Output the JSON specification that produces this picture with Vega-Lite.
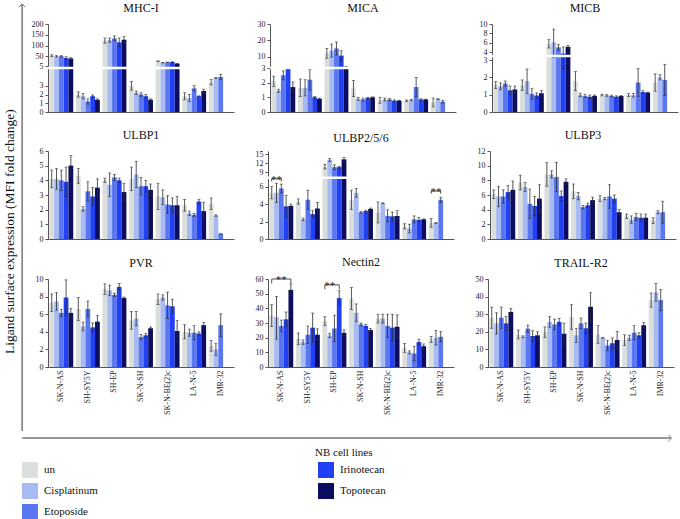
{
  "$schema": "https://vega.github.io/schema/vega-lite/v6.json",
  "padding": {"left": 0, "top": 1, "right": 5, "bottom": 0},
  "background": "white",
  "datasets": {
    "bars": [
      {"m":"MHC-I","c":"SK-N-AS","t":"un","v":53,"lo":49,"hi":57},
      {"m":"MHC-I","c":"SK-N-AS","t":"Cisplatinum","v":50,"lo":47,"hi":53},
      {"m":"MHC-I","c":"SK-N-AS","t":"Etoposide","v":50,"lo":47,"hi":53},
      {"m":"MHC-I","c":"SK-N-AS","t":"Irinotecan","v":42,"lo":36,"hi":48},
      {"m":"MHC-I","c":"SK-N-AS","t":"Topotecan","v":40,"lo":36,"hi":44},
      {"m":"MHC-I","c":"SH-SY5Y","t":"un","v":2.0,"lo":1.7,"hi":2.3},
      {"m":"MHC-I","c":"SH-SY5Y","t":"Cisplatinum","v":1.8,"lo":1.5,"hi":2.1},
      {"m":"MHC-I","c":"SH-SY5Y","t":"Etoposide","v":1.2,"lo":0.9,"hi":1.5},
      {"m":"MHC-I","c":"SH-SY5Y","t":"Irinotecan","v":1.8,"lo":1.65,"hi":1.95},
      {"m":"MHC-I","c":"SH-SY5Y","t":"Topotecan","v":1.4,"lo":1.3,"hi":1.5},
      {"m":"MHC-I","c":"SH-EP","t":"un","v":123,"lo":111,"hi":135},
      {"m":"MHC-I","c":"SH-EP","t":"Cisplatinum","v":125,"lo":115,"hi":135},
      {"m":"MHC-I","c":"SH-EP","t":"Etoposide","v":133,"lo":121,"hi":145},
      {"m":"MHC-I","c":"SH-EP","t":"Irinotecan","v":115,"lo":95,"hi":135},
      {"m":"MHC-I","c":"SH-EP","t":"Topotecan","v":127,"lo":112,"hi":142},
      {"m":"MHC-I","c":"SK-N-SH","t":"un","v":3.0,"lo":2.5,"hi":3.5},
      {"m":"MHC-I","c":"SK-N-SH","t":"Cisplatinum","v":2.2,"lo":2.0,"hi":2.4},
      {"m":"MHC-I","c":"SK-N-SH","t":"Etoposide","v":2.0,"lo":1.8,"hi":2.2},
      {"m":"MHC-I","c":"SK-N-SH","t":"Irinotecan","v":1.8,"lo":1.6,"hi":2.0},
      {"m":"MHC-I","c":"SK-N-SH","t":"Topotecan","v":1.4,"lo":1.3,"hi":1.5},
      {"m":"MHC-I","c":"SK-N-BE(2)c","t":"un","v":27,"lo":25,"hi":29},
      {"m":"MHC-I","c":"SK-N-BE(2)c","t":"Cisplatinum","v":20,"lo":19,"hi":21},
      {"m":"MHC-I","c":"SK-N-BE(2)c","t":"Etoposide","v":22,"lo":21,"hi":23},
      {"m":"MHC-I","c":"SK-N-BE(2)c","t":"Irinotecan","v":23,"lo":21,"hi":25},
      {"m":"MHC-I","c":"SK-N-BE(2)c","t":"Topotecan","v":16,"lo":15,"hi":17},
      {"m":"MHC-I","c":"LA-N-5","t":"un","v":1.8,"lo":1.4,"hi":2.2},
      {"m":"MHC-I","c":"LA-N-5","t":"Cisplatinum","v":1.6,"lo":1.2,"hi":2.0},
      {"m":"MHC-I","c":"LA-N-5","t":"Etoposide","v":2.7,"lo":2.4,"hi":3.0},
      {"m":"MHC-I","c":"LA-N-5","t":"Irinotecan","v":1.8,"lo":1.75,"hi":1.85},
      {"m":"MHC-I","c":"LA-N-5","t":"Topotecan","v":2.4,"lo":2.2,"hi":2.6},
      {"m":"MHC-I","c":"IMR-32","t":"un","v":3.4,"lo":3.1,"hi":3.7},
      {"m":"MHC-I","c":"IMR-32","t":"Cisplatinum","v":3.9,"lo":3.85,"hi":3.95},
      {"m":"MHC-I","c":"IMR-32","t":"Etoposide","v":4.0,"lo":3.7,"hi":4.3},

      {"m":"MICA","c":"SK-N-AS","t":"un","v":2.1,"lo":1.75,"hi":2.45},
      {"m":"MICA","c":"SK-N-AS","t":"Cisplatinum","v":1.45,"lo":1.35,"hi":1.55},
      {"m":"MICA","c":"SK-N-AS","t":"Etoposide","v":2.5,"lo":2.2,"hi":2.8},
      {"m":"MICA","c":"SK-N-AS","t":"Irinotecan","v":2.95,"lo":2.9,"hi":3.0},
      {"m":"MICA","c":"SK-N-AS","t":"Topotecan","v":1.7,"lo":1.35,"hi":2.05},
      {"m":"MICA","c":"SH-SY5Y","t":"un","v":1.65,"lo":1.05,"hi":2.25},
      {"m":"MICA","c":"SH-SY5Y","t":"Cisplatinum","v":1.65,"lo":1.1,"hi":2.2},
      {"m":"MICA","c":"SH-SY5Y","t":"Etoposide","v":2.2,"lo":1.5,"hi":2.9},
      {"m":"MICA","c":"SH-SY5Y","t":"Irinotecan","v":1.0,"lo":0.95,"hi":1.05},
      {"m":"MICA","c":"SH-SY5Y","t":"Topotecan","v":0.9,"lo":0.85,"hi":0.95},
      {"m":"MICA","c":"SH-EP","t":"un","v":12,"lo":9,"hi":15},
      {"m":"MICA","c":"SH-EP","t":"Cisplatinum","v":13.7,"lo":9.7,"hi":17.7},
      {"m":"MICA","c":"SH-EP","t":"Etoposide","v":15,"lo":11,"hi":19},
      {"m":"MICA","c":"SH-EP","t":"Irinotecan","v":10.6,"lo":7.6,"hi":13.6},
      {"m":"MICA","c":"SH-EP","t":"Topotecan","v":3.7,"lo":3.4,"hi":4.0},
      {"m":"MICA","c":"SK-N-SH","t":"un","v":1.6,"lo":1.05,"hi":2.15},
      {"m":"MICA","c":"SK-N-SH","t":"Cisplatinum","v":0.9,"lo":0.8,"hi":1.0},
      {"m":"MICA","c":"SK-N-SH","t":"Etoposide","v":0.85,"lo":0.75,"hi":0.95},
      {"m":"MICA","c":"SK-N-SH","t":"Irinotecan","v":0.95,"lo":0.9,"hi":1.0},
      {"m":"MICA","c":"SK-N-SH","t":"Topotecan","v":1.0,"lo":0.97,"hi":1.03},
      {"m":"MICA","c":"SK-N-BE(2)c","t":"un","v":0.8,"lo":0.6,"hi":1.0},
      {"m":"MICA","c":"SK-N-BE(2)c","t":"Cisplatinum","v":0.85,"lo":0.75,"hi":0.95},
      {"m":"MICA","c":"SK-N-BE(2)c","t":"Etoposide","v":0.85,"lo":0.77,"hi":0.93},
      {"m":"MICA","c":"SK-N-BE(2)c","t":"Irinotecan","v":0.77,"lo":0.72,"hi":0.82},
      {"m":"MICA","c":"SK-N-BE(2)c","t":"Topotecan","v":0.77,"lo":0.74,"hi":0.8},
      {"m":"MICA","c":"LA-N-5","t":"un","v":0.77,"lo":0.72,"hi":0.82},
      {"m":"MICA","c":"LA-N-5","t":"Cisplatinum","v":0.82,"lo":0.77,"hi":0.87},
      {"m":"MICA","c":"LA-N-5","t":"Etoposide","v":1.7,"lo":1.05,"hi":2.35},
      {"m":"MICA","c":"LA-N-5","t":"Irinotecan","v":0.85,"lo":0.8,"hi":0.9},
      {"m":"MICA","c":"LA-N-5","t":"Topotecan","v":0.85,"lo":0.82,"hi":0.88},
      {"m":"MICA","c":"IMR-32","t":"un","v":0.65,"lo":0.35,"hi":0.95},
      {"m":"MICA","c":"IMR-32","t":"Cisplatinum","v":0.88,"lo":0.85,"hi":0.91},
      {"m":"MICA","c":"IMR-32","t":"Etoposide","v":0.7,"lo":0.6,"hi":0.8},

      {"m":"MICB","c":"SK-N-AS","t":"un","v":1.55,"lo":1.35,"hi":1.75},
      {"m":"MICB","c":"SK-N-AS","t":"Cisplatinum","v":1.48,"lo":1.28,"hi":1.68},
      {"m":"MICB","c":"SK-N-AS","t":"Etoposide","v":1.64,"lo":1.49,"hi":1.79},
      {"m":"MICB","c":"SK-N-AS","t":"Irinotecan","v":1.25,"lo":1.0,"hi":1.5},
      {"m":"MICB","c":"SK-N-AS","t":"Topotecan","v":1.3,"lo":1.1,"hi":1.5},
      {"m":"MICB","c":"SH-SY5Y","t":"un","v":1.55,"lo":1.25,"hi":1.85},
      {"m":"MICB","c":"SH-SY5Y","t":"Cisplatinum","v":1.78,"lo":1.08,"hi":2.48},
      {"m":"MICB","c":"SH-SY5Y","t":"Etoposide","v":1.04,"lo":0.74,"hi":1.34},
      {"m":"MICB","c":"SH-SY5Y","t":"Irinotecan","v":0.95,"lo":0.8,"hi":1.1},
      {"m":"MICB","c":"SH-SY5Y","t":"Topotecan","v":1.08,"lo":0.93,"hi":1.23},
      {"m":"MICB","c":"SH-EP","t":"un","v":5.75,"lo":4.85,"hi":6.65},
      {"m":"MICB","c":"SH-EP","t":"Cisplatinum","v":6.1,"lo":3.3,"hi":8.9},
      {"m":"MICB","c":"SH-EP","t":"Etoposide","v":5.0,"lo":4.4,"hi":5.6},
      {"m":"MICB","c":"SH-EP","t":"Irinotecan","v":3.8,"lo":2.5,"hi":5.1},
      {"m":"MICB","c":"SH-EP","t":"Topotecan","v":5.1,"lo":4.8,"hi":5.4},
      {"m":"MICB","c":"SK-N-SH","t":"un","v":1.78,"lo":1.23,"hi":2.33},
      {"m":"MICB","c":"SK-N-SH","t":"Cisplatinum","v":0.98,"lo":0.88,"hi":1.08},
      {"m":"MICB","c":"SK-N-SH","t":"Etoposide","v":0.92,"lo":0.82,"hi":1.02},
      {"m":"MICB","c":"SK-N-SH","t":"Irinotecan","v":0.88,"lo":0.78,"hi":0.98},
      {"m":"MICB","c":"SK-N-SH","t":"Topotecan","v":0.93,"lo":0.88,"hi":0.98},
      {"m":"MICB","c":"SK-N-BE(2)c","t":"un","v":0.98,"lo":0.93,"hi":1.03},
      {"m":"MICB","c":"SK-N-BE(2)c","t":"Cisplatinum","v":0.96,"lo":0.91,"hi":1.01},
      {"m":"MICB","c":"SK-N-BE(2)c","t":"Etoposide","v":0.92,"lo":0.87,"hi":0.97},
      {"m":"MICB","c":"SK-N-BE(2)c","t":"Irinotecan","v":0.88,"lo":0.83,"hi":0.93},
      {"m":"MICB","c":"SK-N-BE(2)c","t":"Topotecan","v":0.92,"lo":0.89,"hi":0.95},
      {"m":"MICB","c":"LA-N-5","t":"un","v":0.98,"lo":0.9,"hi":1.06},
      {"m":"MICB","c":"LA-N-5","t":"Cisplatinum","v":0.96,"lo":0.86,"hi":1.06},
      {"m":"MICB","c":"LA-N-5","t":"Etoposide","v":1.7,"lo":0.9,"hi":2.5},
      {"m":"MICB","c":"LA-N-5","t":"Irinotecan","v":1.15,"lo":1.07,"hi":1.23},
      {"m":"MICB","c":"LA-N-5","t":"Topotecan","v":1.12,"lo":1.09,"hi":1.15},
      {"m":"MICB","c":"IMR-32","t":"un","v":1.7,"lo":1.2,"hi":2.2},
      {"m":"MICB","c":"IMR-32","t":"Cisplatinum","v":2.0,"lo":1.85,"hi":2.15},
      {"m":"MICB","c":"IMR-32","t":"Etoposide","v":1.85,"lo":0.95,"hi":2.75},

      {"m":"ULBP1","c":"SK-N-AS","t":"un","v":4.1,"lo":3.5,"hi":4.7},
      {"m":"ULBP1","c":"SK-N-AS","t":"Cisplatinum","v":4.1,"lo":3.4,"hi":4.8},
      {"m":"ULBP1","c":"SK-N-AS","t":"Etoposide","v":4.0,"lo":3.3,"hi":4.7},
      {"m":"ULBP1","c":"SK-N-AS","t":"Irinotecan","v":3.9,"lo":2.9,"hi":4.9},
      {"m":"ULBP1","c":"SK-N-AS","t":"Topotecan","v":5.0,"lo":4.3,"hi":5.7},
      {"m":"ULBP1","c":"SH-SY5Y","t":"un","v":4.3,"lo":3.8,"hi":4.8},
      {"m":"ULBP1","c":"SH-SY5Y","t":"Cisplatinum","v":2.05,"lo":1.9,"hi":2.2},
      {"m":"ULBP1","c":"SH-SY5Y","t":"Etoposide","v":3.25,"lo":2.6,"hi":3.9},
      {"m":"ULBP1","c":"SH-SY5Y","t":"Irinotecan","v":2.9,"lo":2.3,"hi":3.5},
      {"m":"ULBP1","c":"SH-SY5Y","t":"Topotecan","v":3.5,"lo":2.9,"hi":4.1},
      {"m":"ULBP1","c":"SH-EP","t":"un","v":4.0,"lo":3.85,"hi":4.15},
      {"m":"ULBP1","c":"SH-EP","t":"Cisplatinum","v":3.7,"lo":2.9,"hi":4.5},
      {"m":"ULBP1","c":"SH-EP","t":"Etoposide","v":4.2,"lo":4.0,"hi":4.4},
      {"m":"ULBP1","c":"SH-EP","t":"Irinotecan","v":4.0,"lo":3.85,"hi":4.15},
      {"m":"ULBP1","c":"SH-EP","t":"Topotecan","v":3.2,"lo":2.6,"hi":3.8},
      {"m":"ULBP1","c":"SK-N-SH","t":"un","v":4.1,"lo":3.3,"hi":4.9},
      {"m":"ULBP1","c":"SK-N-SH","t":"Cisplatinum","v":4.4,"lo":3.5,"hi":5.3},
      {"m":"ULBP1","c":"SK-N-SH","t":"Etoposide","v":3.6,"lo":3.0,"hi":4.2},
      {"m":"ULBP1","c":"SK-N-SH","t":"Irinotecan","v":3.6,"lo":3.2,"hi":4.0},
      {"m":"ULBP1","c":"SK-N-SH","t":"Topotecan","v":3.35,"lo":2.95,"hi":3.75},
      {"m":"ULBP1","c":"SK-N-BE(2)c","t":"un","v":2.9,"lo":2.0,"hi":3.8},
      {"m":"ULBP1","c":"SK-N-BE(2)c","t":"Cisplatinum","v":2.85,"lo":2.35,"hi":3.35},
      {"m":"ULBP1","c":"SK-N-BE(2)c","t":"Etoposide","v":2.35,"lo":1.75,"hi":2.95},
      {"m":"ULBP1","c":"SK-N-BE(2)c","t":"Irinotecan","v":2.3,"lo":1.8,"hi":2.8},
      {"m":"ULBP1","c":"SK-N-BE(2)c","t":"Topotecan","v":2.3,"lo":1.7,"hi":2.9},
      {"m":"ULBP1","c":"LA-N-5","t":"un","v":2.3,"lo":1.9,"hi":2.7},
      {"m":"ULBP1","c":"LA-N-5","t":"Cisplatinum","v":1.75,"lo":1.6,"hi":1.9},
      {"m":"ULBP1","c":"LA-N-5","t":"Etoposide","v":1.65,"lo":1.55,"hi":1.75},
      {"m":"ULBP1","c":"LA-N-5","t":"Irinotecan","v":2.55,"lo":2.4,"hi":2.7},
      {"m":"ULBP1","c":"LA-N-5","t":"Topotecan","v":1.9,"lo":1.3,"hi":2.5},
      {"m":"ULBP1","c":"IMR-32","t":"un","v":2.4,"lo":2.0,"hi":2.8},
      {"m":"ULBP1","c":"IMR-32","t":"Cisplatinum","v":1.6,"lo":1.55,"hi":1.65},
      {"m":"ULBP1","c":"IMR-32","t":"Etoposide","v":0.35,"lo":0.35,"hi":0.35},

      {"m":"ULBP2/5/6","c":"SK-N-AS","t":"un","v":5.3,"lo":4.6,"hi":6.0},
      {"m":"ULBP2/5/6","c":"SK-N-AS","t":"Cisplatinum","v":5.3,"lo":4.2,"hi":6.4},
      {"m":"ULBP2/5/6","c":"SK-N-AS","t":"Etoposide","v":5.8,"lo":5.3,"hi":6.3},
      {"m":"ULBP2/5/6","c":"SK-N-AS","t":"Irinotecan","v":3.75,"lo":2.5,"hi":5.0},
      {"m":"ULBP2/5/6","c":"SK-N-AS","t":"Topotecan","v":3.8,"lo":3.6,"hi":4.0},
      {"m":"ULBP2/5/6","c":"SH-SY5Y","t":"un","v":4.3,"lo":4.0,"hi":4.6},
      {"m":"ULBP2/5/6","c":"SH-SY5Y","t":"Cisplatinum","v":2.25,"lo":2.1,"hi":2.4},
      {"m":"ULBP2/5/6","c":"SH-SY5Y","t":"Etoposide","v":4.5,"lo":3.4,"hi":5.6},
      {"m":"ULBP2/5/6","c":"SH-SY5Y","t":"Irinotecan","v":2.85,"lo":2.45,"hi":3.25},
      {"m":"ULBP2/5/6","c":"SH-SY5Y","t":"Topotecan","v":3.5,"lo":2.8,"hi":4.2},
      {"m":"ULBP2/5/6","c":"SH-EP","t":"un","v":10.8,"lo":10.0,"hi":11.6},
      {"m":"ULBP2/5/6","c":"SH-EP","t":"Cisplatinum","v":13.0,"lo":12.5,"hi":13.5},
      {"m":"ULBP2/5/6","c":"SH-EP","t":"Etoposide","v":10.6,"lo":9.8,"hi":11.4},
      {"m":"ULBP2/5/6","c":"SH-EP","t":"Irinotecan","v":10.6,"lo":10.3,"hi":10.9},
      {"m":"ULBP2/5/6","c":"SH-EP","t":"Topotecan","v":13.2,"lo":12.5,"hi":13.9},
      {"m":"ULBP2/5/6","c":"SK-N-SH","t":"un","v":4.5,"lo":3.4,"hi":5.6},
      {"m":"ULBP2/5/6","c":"SK-N-SH","t":"Cisplatinum","v":5.3,"lo":4.8,"hi":5.8},
      {"m":"ULBP2/5/6","c":"SK-N-SH","t":"Etoposide","v":3.05,"lo":2.95,"hi":3.15},
      {"m":"ULBP2/5/6","c":"SK-N-SH","t":"Irinotecan","v":3.2,"lo":3.1,"hi":3.3},
      {"m":"ULBP2/5/6","c":"SK-N-SH","t":"Topotecan","v":3.45,"lo":3.35,"hi":3.55},
      {"m":"ULBP2/5/6","c":"SK-N-BE(2)c","t":"un","v":3.05,"lo":1.85,"hi":4.25},
      {"m":"ULBP2/5/6","c":"SK-N-BE(2)c","t":"Cisplatinum","v":4.1,"lo":4.05,"hi":4.15},
      {"m":"ULBP2/5/6","c":"SK-N-BE(2)c","t":"Etoposide","v":2.65,"lo":1.95,"hi":3.35},
      {"m":"ULBP2/5/6","c":"SK-N-BE(2)c","t":"Irinotecan","v":2.6,"lo":2.1,"hi":3.1},
      {"m":"ULBP2/5/6","c":"SK-N-BE(2)c","t":"Topotecan","v":2.65,"lo":2.05,"hi":3.25},
      {"m":"ULBP2/5/6","c":"LA-N-5","t":"un","v":1.45,"lo":1.15,"hi":1.75},
      {"m":"ULBP2/5/6","c":"LA-N-5","t":"Cisplatinum","v":1.2,"lo":0.7,"hi":1.7},
      {"m":"ULBP2/5/6","c":"LA-N-5","t":"Etoposide","v":2.25,"lo":1.85,"hi":2.65},
      {"m":"ULBP2/5/6","c":"LA-N-5","t":"Irinotecan","v":2.2,"lo":1.95,"hi":2.45},
      {"m":"ULBP2/5/6","c":"LA-N-5","t":"Topotecan","v":2.25,"lo":2.2,"hi":2.3},
      {"m":"ULBP2/5/6","c":"IMR-32","t":"un","v":1.85,"lo":1.35,"hi":2.35},
      {"m":"ULBP2/5/6","c":"IMR-32","t":"Cisplatinum","v":1.85,"lo":1.8,"hi":1.9},
      {"m":"ULBP2/5/6","c":"IMR-32","t":"Etoposide","v":4.5,"lo":4.2,"hi":4.8},

      {"m":"ULBP3","c":"SK-N-AS","t":"un","v":6.1,"lo":5.5,"hi":6.7},
      {"m":"ULBP3","c":"SK-N-AS","t":"Cisplatinum","v":5.8,"lo":4.4,"hi":7.2},
      {"m":"ULBP3","c":"SK-N-AS","t":"Etoposide","v":5.8,"lo":4.9,"hi":6.7},
      {"m":"ULBP3","c":"SK-N-AS","t":"Irinotecan","v":6.4,"lo":5.5,"hi":7.3},
      {"m":"ULBP3","c":"SK-N-AS","t":"Topotecan","v":6.7,"lo":5.5,"hi":7.9},
      {"m":"ULBP3","c":"SH-SY5Y","t":"un","v":7.7,"lo":6.7,"hi":8.7},
      {"m":"ULBP3","c":"SH-SY5Y","t":"Cisplatinum","v":7.1,"lo":6.5,"hi":7.7},
      {"m":"ULBP3","c":"SH-SY5Y","t":"Etoposide","v":4.8,"lo":2.8,"hi":6.8},
      {"m":"ULBP3","c":"SH-SY5Y","t":"Irinotecan","v":4.5,"lo":3.2,"hi":5.8},
      {"m":"ULBP3","c":"SH-SY5Y","t":"Topotecan","v":5.5,"lo":3.6,"hi":7.4},
      {"m":"ULBP3","c":"SH-EP","t":"un","v":8.8,"lo":7.2,"hi":10.4},
      {"m":"ULBP3","c":"SH-EP","t":"Cisplatinum","v":8.8,"lo":8.3,"hi":9.3},
      {"m":"ULBP3","c":"SH-EP","t":"Etoposide","v":8.45,"lo":6.45,"hi":10.45},
      {"m":"ULBP3","c":"SH-EP","t":"Irinotecan","v":5.85,"lo":5.15,"hi":6.55},
      {"m":"ULBP3","c":"SH-EP","t":"Topotecan","v":7.8,"lo":7.4,"hi":8.2},
      {"m":"ULBP3","c":"SK-N-SH","t":"un","v":6.5,"lo":5.5,"hi":7.5},
      {"m":"ULBP3","c":"SK-N-SH","t":"Cisplatinum","v":5.85,"lo":5.35,"hi":6.35},
      {"m":"ULBP3","c":"SK-N-SH","t":"Etoposide","v":4.35,"lo":4.1,"hi":4.6},
      {"m":"ULBP3","c":"SK-N-SH","t":"Irinotecan","v":4.6,"lo":4.3,"hi":4.9},
      {"m":"ULBP3","c":"SK-N-SH","t":"Topotecan","v":5.3,"lo":4.9,"hi":5.7},
      {"m":"ULBP3","c":"SK-N-BE(2)c","t":"un","v":5.5,"lo":5.1,"hi":5.9},
      {"m":"ULBP3","c":"SK-N-BE(2)c","t":"Cisplatinum","v":5.5,"lo":5.35,"hi":5.65},
      {"m":"ULBP3","c":"SK-N-BE(2)c","t":"Etoposide","v":5.8,"lo":4.2,"hi":7.4},
      {"m":"ULBP3","c":"SK-N-BE(2)c","t":"Irinotecan","v":5.5,"lo":5.0,"hi":6.0},
      {"m":"ULBP3","c":"SK-N-BE(2)c","t":"Topotecan","v":3.65,"lo":3.25,"hi":4.05},
      {"m":"ULBP3","c":"LA-N-5","t":"un","v":3.1,"lo":2.8,"hi":3.4},
      {"m":"ULBP3","c":"LA-N-5","t":"Cisplatinum","v":2.65,"lo":2.15,"hi":3.15},
      {"m":"ULBP3","c":"LA-N-5","t":"Etoposide","v":3.0,"lo":2.5,"hi":3.5},
      {"m":"ULBP3","c":"LA-N-5","t":"Irinotecan","v":2.9,"lo":2.4,"hi":3.4},
      {"m":"ULBP3","c":"LA-N-5","t":"Topotecan","v":2.9,"lo":2.4,"hi":3.4},
      {"m":"ULBP3","c":"IMR-32","t":"un","v":2.5,"lo":2.1,"hi":2.9},
      {"m":"ULBP3","c":"IMR-32","t":"Cisplatinum","v":3.65,"lo":3.45,"hi":3.85},
      {"m":"ULBP3","c":"IMR-32","t":"Etoposide","v":3.65,"lo":2.15,"hi":5.15},

      {"m":"PVR","c":"SK-N-AS","t":"un","v":7.3,"lo":6.3,"hi":8.3},
      {"m":"PVR","c":"SK-N-AS","t":"Cisplatinum","v":7.45,"lo":6.45,"hi":8.45},
      {"m":"PVR","c":"SK-N-AS","t":"Etoposide","v":6.15,"lo":5.75,"hi":6.55},
      {"m":"PVR","c":"SK-N-AS","t":"Irinotecan","v":7.9,"lo":5.9,"hi":9.9},
      {"m":"PVR","c":"SK-N-AS","t":"Topotecan","v":6.15,"lo":5.65,"hi":6.65},
      {"m":"PVR","c":"SH-SY5Y","t":"un","v":6.6,"lo":5.3,"hi":7.9},
      {"m":"PVR","c":"SH-SY5Y","t":"Cisplatinum","v":4.6,"lo":4.1,"hi":5.1},
      {"m":"PVR","c":"SH-SY5Y","t":"Etoposide","v":6.6,"lo":5.7,"hi":7.5},
      {"m":"PVR","c":"SH-SY5Y","t":"Irinotecan","v":4.5,"lo":4.0,"hi":5.0},
      {"m":"PVR","c":"SH-SY5Y","t":"Topotecan","v":5.15,"lo":4.45,"hi":5.85},
      {"m":"PVR","c":"SH-EP","t":"un","v":8.85,"lo":8.25,"hi":9.45},
      {"m":"PVR","c":"SH-EP","t":"Cisplatinum","v":8.7,"lo":8.1,"hi":9.3},
      {"m":"PVR","c":"SH-EP","t":"Etoposide","v":8.2,"lo":8.0,"hi":8.4},
      {"m":"PVR","c":"SH-EP","t":"Irinotecan","v":9.1,"lo":8.7,"hi":9.5},
      {"m":"PVR","c":"SH-EP","t":"Topotecan","v":7.85,"lo":7.75,"hi":7.95},
      {"m":"PVR","c":"SK-N-SH","t":"un","v":5.3,"lo":4.3,"hi":6.3},
      {"m":"PVR","c":"SK-N-SH","t":"Cisplatinum","v":5.5,"lo":4.7,"hi":6.3},
      {"m":"PVR","c":"SK-N-SH","t":"Etoposide","v":3.4,"lo":3.1,"hi":3.7},
      {"m":"PVR","c":"SK-N-SH","t":"Irinotecan","v":3.6,"lo":3.4,"hi":3.8},
      {"m":"PVR","c":"SK-N-SH","t":"Topotecan","v":4.4,"lo":4.25,"hi":4.55},
      {"m":"PVR","c":"SK-N-BE(2)c","t":"un","v":7.7,"lo":7.1,"hi":8.3},
      {"m":"PVR","c":"SK-N-BE(2)c","t":"Cisplatinum","v":7.9,"lo":7.6,"hi":8.2},
      {"m":"PVR","c":"SK-N-BE(2)c","t":"Etoposide","v":7.0,"lo":5.5,"hi":8.5},
      {"m":"PVR","c":"SK-N-BE(2)c","t":"Irinotecan","v":6.9,"lo":6.1,"hi":7.7},
      {"m":"PVR","c":"SK-N-BE(2)c","t":"Topotecan","v":4.1,"lo":2.9,"hi":5.3},
      {"m":"PVR","c":"LA-N-5","t":"un","v":4.0,"lo":3.2,"hi":4.8},
      {"m":"PVR","c":"LA-N-5","t":"Cisplatinum","v":3.9,"lo":3.5,"hi":4.3},
      {"m":"PVR","c":"LA-N-5","t":"Etoposide","v":3.9,"lo":3.1,"hi":4.7},
      {"m":"PVR","c":"LA-N-5","t":"Irinotecan","v":3.8,"lo":3.6,"hi":4.0},
      {"m":"PVR","c":"LA-N-5","t":"Topotecan","v":4.75,"lo":4.45,"hi":5.05},
      {"m":"PVR","c":"IMR-32","t":"un","v":2.4,"lo":1.8,"hi":3.0},
      {"m":"PVR","c":"IMR-32","t":"Cisplatinum","v":2.0,"lo":1.3,"hi":2.7},
      {"m":"PVR","c":"IMR-32","t":"Etoposide","v":4.75,"lo":3.45,"hi":6.05},

      {"m":"Nectin2","c":"SK-N-AS","t":"un","v":35,"lo":27.5,"hi":42.5},
      {"m":"Nectin2","c":"SK-N-AS","t":"Cisplatinum","v":34,"lo":19,"hi":48},
      {"m":"Nectin2","c":"SK-N-AS","t":"Etoposide","v":28,"lo":24,"hi":32},
      {"m":"Nectin2","c":"SK-N-AS","t":"Irinotecan","v":32.5,"lo":27.5,"hi":37.5},
      {"m":"Nectin2","c":"SK-N-AS","t":"Topotecan","v":52.6,"lo":48.6,"hi":56.6},
      {"m":"Nectin2","c":"SH-SY5Y","t":"un","v":19.2,"lo":15.2,"hi":23.2},
      {"m":"Nectin2","c":"SH-SY5Y","t":"Cisplatinum","v":17,"lo":15.5,"hi":18.5},
      {"m":"Nectin2","c":"SH-SY5Y","t":"Etoposide","v":22,"lo":16,"hi":28},
      {"m":"Nectin2","c":"SH-SY5Y","t":"Irinotecan","v":26.8,"lo":16.8,"hi":36.8},
      {"m":"Nectin2","c":"SH-SY5Y","t":"Topotecan","v":22,"lo":18,"hi":26},
      {"m":"Nectin2","c":"SH-EP","t":"un","v":31.3,"lo":28.3,"hi":34.3},
      {"m":"Nectin2","c":"SH-EP","t":"Cisplatinum","v":21.5,"lo":20,"hi":23},
      {"m":"Nectin2","c":"SH-EP","t":"Etoposide","v":26.3,"lo":17.3,"hi":35.3},
      {"m":"Nectin2","c":"SH-EP","t":"Irinotecan","v":47,"lo":42,"hi":52},
      {"m":"Nectin2","c":"SH-EP","t":"Topotecan","v":23.3,"lo":21.3,"hi":25.3},
      {"m":"Nectin2","c":"SK-N-SH","t":"un","v":46.7,"lo":39.2,"hi":54.2},
      {"m":"Nectin2","c":"SK-N-SH","t":"Cisplatinum","v":37,"lo":31,"hi":43},
      {"m":"Nectin2","c":"SK-N-SH","t":"Etoposide","v":29,"lo":28,"hi":30},
      {"m":"Nectin2","c":"SK-N-SH","t":"Irinotecan","v":28,"lo":27,"hi":29},
      {"m":"Nectin2","c":"SK-N-SH","t":"Topotecan","v":25.2,"lo":24.2,"hi":26.2},
      {"m":"Nectin2","c":"SK-N-BE(2)c","t":"un","v":33,"lo":30,"hi":36},
      {"m":"Nectin2","c":"SK-N-BE(2)c","t":"Cisplatinum","v":33,"lo":30,"hi":36},
      {"m":"Nectin2","c":"SK-N-BE(2)c","t":"Etoposide","v":28,"lo":20,"hi":36},
      {"m":"Nectin2","c":"SK-N-BE(2)c","t":"Irinotecan","v":26.8,"lo":17.8,"hi":35.8},
      {"m":"Nectin2","c":"SK-N-BE(2)c","t":"Topotecan","v":27.5,"lo":19.5,"hi":35.5},
      {"m":"Nectin2","c":"LA-N-5","t":"un","v":13,"lo":10,"hi":16},
      {"m":"Nectin2","c":"LA-N-5","t":"Cisplatinum","v":10,"lo":9,"hi":11},
      {"m":"Nectin2","c":"LA-N-5","t":"Etoposide","v":9.2,"lo":4.2,"hi":14.2},
      {"m":"Nectin2","c":"LA-N-5","t":"Irinotecan","v":17,"lo":15,"hi":19},
      {"m":"Nectin2","c":"LA-N-5","t":"Topotecan","v":14.2,"lo":12.7,"hi":15.7},
      {"m":"Nectin2","c":"IMR-32","t":"un","v":18.8,"lo":16.8,"hi":20.8},
      {"m":"Nectin2","c":"IMR-32","t":"Cisplatinum","v":20,"lo":15,"hi":25},
      {"m":"Nectin2","c":"IMR-32","t":"Etoposide","v":20.6,"lo":17.1,"hi":24.1},

      {"m":"TRAIL-R2","c":"SK-N-AS","t":"un","v":28,"lo":22,"hi":34},
      {"m":"TRAIL-R2","c":"SK-N-AS","t":"Cisplatinum","v":24.8,"lo":18.8,"hi":30.8},
      {"m":"TRAIL-R2","c":"SK-N-AS","t":"Etoposide","v":28,"lo":22,"hi":34},
      {"m":"TRAIL-R2","c":"SK-N-AS","t":"Irinotecan","v":24.8,"lo":20.8,"hi":28.8},
      {"m":"TRAIL-R2","c":"SK-N-AS","t":"Topotecan","v":31.3,"lo":29.3,"hi":33.3},
      {"m":"TRAIL-R2","c":"SH-SY5Y","t":"un","v":18.5,"lo":16,"hi":21},
      {"m":"TRAIL-R2","c":"SH-SY5Y","t":"Cisplatinum","v":17.2,"lo":16.7,"hi":17.7},
      {"m":"TRAIL-R2","c":"SH-SY5Y","t":"Etoposide","v":21.8,"lo":19.8,"hi":23.8},
      {"m":"TRAIL-R2","c":"SH-SY5Y","t":"Irinotecan","v":17.6,"lo":14.6,"hi":20.6},
      {"m":"TRAIL-R2","c":"SH-SY5Y","t":"Topotecan","v":18,"lo":16,"hi":20},
      {"m":"TRAIL-R2","c":"SH-EP","t":"un","v":19.8,"lo":16.8,"hi":22.8},
      {"m":"TRAIL-R2","c":"SH-EP","t":"Cisplatinum","v":25.6,"lo":22.6,"hi":28.6},
      {"m":"TRAIL-R2","c":"SH-EP","t":"Etoposide","v":24.2,"lo":21.2,"hi":27.2},
      {"m":"TRAIL-R2","c":"SH-EP","t":"Irinotecan","v":25.6,"lo":23.6,"hi":27.6},
      {"m":"TRAIL-R2","c":"SH-EP","t":"Topotecan","v":18.9,"lo":12.9,"hi":24.9},
      {"m":"TRAIL-R2","c":"SK-N-SH","t":"un","v":28.4,"lo":21.4,"hi":35.4},
      {"m":"TRAIL-R2","c":"SK-N-SH","t":"Cisplatinum","v":18,"lo":14,"hi":22},
      {"m":"TRAIL-R2","c":"SK-N-SH","t":"Etoposide","v":24.8,"lo":21.8,"hi":27.8},
      {"m":"TRAIL-R2","c":"SK-N-SH","t":"Irinotecan","v":22,"lo":19,"hi":25},
      {"m":"TRAIL-R2","c":"SK-N-SH","t":"Topotecan","v":34.2,"lo":26.2,"hi":42.2},
      {"m":"TRAIL-R2","c":"SK-N-BE(2)c","t":"un","v":18.5,"lo":13.5,"hi":23.5},
      {"m":"TRAIL-R2","c":"SK-N-BE(2)c","t":"Cisplatinum","v":16.6,"lo":16.4,"hi":16.8},
      {"m":"TRAIL-R2","c":"SK-N-BE(2)c","t":"Etoposide","v":12.2,"lo":9.2,"hi":15.2},
      {"m":"TRAIL-R2","c":"SK-N-BE(2)c","t":"Irinotecan","v":13.5,"lo":10.5,"hi":16.5},
      {"m":"TRAIL-R2","c":"SK-N-BE(2)c","t":"Topotecan","v":15.3,"lo":10.3,"hi":20.3},
      {"m":"TRAIL-R2","c":"LA-N-5","t":"un","v":15.3,"lo":12.3,"hi":18.3},
      {"m":"TRAIL-R2","c":"LA-N-5","t":"Cisplatinum","v":16.6,"lo":15.1,"hi":18.1},
      {"m":"TRAIL-R2","c":"LA-N-5","t":"Etoposide","v":19.5,"lo":15.5,"hi":23.5},
      {"m":"TRAIL-R2","c":"LA-N-5","t":"Irinotecan","v":18,"lo":16.5,"hi":19.5},
      {"m":"TRAIL-R2","c":"LA-N-5","t":"Topotecan","v":23.7,"lo":22.2,"hi":25.2},
      {"m":"TRAIL-R2","c":"IMR-32","t":"un","v":38,"lo":34,"hi":42},
      {"m":"TRAIL-R2","c":"IMR-32","t":"Cisplatinum","v":42.4,"lo":37.4,"hi":47.4},
      {"m":"TRAIL-R2","c":"IMR-32","t":"Etoposide","v":38,"lo":32,"hi":44}
    ],
    "br": [
      {"m":"ULBP2/5/6","c":"SK-N-AS","t":"un","y":6.6,"o":0,"g":1},
      {"m":"ULBP2/5/6","c":"SK-N-AS","t":"un","y":6.9,"o":1,"g":1},
      {"m":"ULBP2/5/6","c":"SK-N-AS","t":"Etoposide","y":6.9,"o":2,"g":1},
      {"m":"ULBP2/5/6","c":"SK-N-AS","t":"Etoposide","y":6.6,"o":3,"g":1},
      {"m":"ULBP2/5/6","c":"IMR-32","t":"un","y":5.2,"o":0,"g":2},
      {"m":"ULBP2/5/6","c":"IMR-32","t":"un","y":5.5,"o":1,"g":2},
      {"m":"ULBP2/5/6","c":"IMR-32","t":"Etoposide","y":5.5,"o":2,"g":2},
      {"m":"ULBP2/5/6","c":"IMR-32","t":"Etoposide","y":5.2,"o":3,"g":2},
      {"m":"Nectin2","c":"SK-N-AS","t":"un","y":57,"o":0,"g":3},
      {"m":"Nectin2","c":"SK-N-AS","t":"un","y":60,"o":1,"g":3},
      {"m":"Nectin2","c":"SK-N-AS","t":"Topotecan","y":60,"o":2,"g":3},
      {"m":"Nectin2","c":"SK-N-AS","t":"Topotecan","y":57,"o":3,"g":3},
      {"m":"Nectin2","c":"SH-EP","t":"un","y":53,"o":0,"g":4},
      {"m":"Nectin2","c":"SH-EP","t":"un","y":56,"o":1,"g":4},
      {"m":"Nectin2","c":"SH-EP","t":"Irinotecan","y":56,"o":2,"g":4},
      {"m":"Nectin2","c":"SH-EP","t":"Irinotecan","y":53,"o":3,"g":4}
    ],
    "st": [
      {"m":"ULBP2/5/6","c":"SK-N-AS","t":"Cisplatinum","y":6.9,"s":"**"},
      {"m":"ULBP2/5/6","c":"IMR-32","t":"Cisplatinum","y":5.5,"s":"**"},
      {"m":"Nectin2","c":"SK-N-AS","t":"Etoposide","y":60,"s":"**"},
      {"m":"Nectin2","c":"SH-EP","t":"Cisplatinum","y":56,"s":"**"}
    ]
  },
  "vconcat": [
    {
      "hconcat": [
        {
          "width": 24, "height": 407,
          "data": {"values": [{"lab": "Ligand surface expression (MFI fold change)"}]},
          "layer": [
            {"mark": {"type": "rule", "color": "#333", "strokeWidth": 1},
             "encoding": {"x": {"datum": 0.92, "type": "quantitative", "scale": {"domain": [0, 1]}, "axis": null},
                          "y": {"datum": 0, "type": "quantitative", "scale": {"domain": [0, 1]}, "axis": null},
                          "y2": {"datum": 1.047}}},
            {"mark": {"type": "point", "shape": "M-1,0.7L0,-0.3L1,0.7", "filled": false, "color": "#333", "size": 40, "strokeWidth": 1},
             "encoding": {"x": {"datum": 0.92, "type": "quantitative"}, "y": {"datum": 1.047, "type": "quantitative"}}},
            {"mark": {"type": "text", "angle": 270, "fontSize": 13.5, "font": "Liberation Serif", "color": "#111"},
             "encoding": {"x": {"datum": 0.4, "type": "quantitative"}, "y": {"datum": 0.49, "type": "quantitative"}, "text": {"field": "lab"}}}
          ]
        },
        {
          "vconcat": [
            {"hconcat": [
              {"title": "MHC-I", "width": 186, "height": 88, "data": {"name": "bars"}, "transform": [{"filter": {"field": "m", "equal": "MHC-I"}}],
               "layer": [
                {"mark": "bar", "encoding": {
                  "x": {"field": "c", "type": "nominal", "scale": {"domain": ["SK-N-AS","SH-SY5Y","SH-EP","SK-N-SH","SK-N-BE(2)c","LA-N-5","IMR-32"], "paddingInner": 0.1, "paddingOuter": 0.05}, "axis": {"labels": false, "ticks": false, "title": null}},
                  "xOffset": {"field": "t", "type": "nominal", "scale": {"domain": ["un","Cisplatinum","Etoposide","Irinotecan","Topotecan"]}},
                  "y": {"field": "v", "type": "quantitative", "scale": {"domain": [0, 4.8, 5, 200], "range": [88, 46, 42, 0]}, "axis": {"values": [0,1,2,3,5,50,100,150,200], "title": null, "labelOverlap": false}},
                  "color": {"field": "t", "type": "nominal", "scale": {"domain": ["un","Cisplatinum","Etoposide","Irinotecan","Topotecan"], "range": ["#dadfdc","#a8baf2","#5a77ef","#2140f4","#0c0d5e"]}, "legend": {"title": null}}}},
                {"mark": {"type": "rule", "color": "#2b2b2b", "strokeWidth": 0.8}, "encoding": {"x": {"field": "c", "type": "nominal", "axis": {"labels": false, "ticks": false, "title": null}}, "xOffset": {"field": "t", "type": "nominal"}, "y": {"field": "lo", "type": "quantitative", "axis": {"values": [0,1,2,3,5,50,100,150,200], "title": null, "labelOverlap": false}}, "y2": {"field": "hi"}}},
                {"mark": {"type": "tick", "color": "#2b2b2b", "thickness": 0.8, "size": 3, "orient": "horizontal"}, "encoding": {"x": {"field": "c", "type": "nominal", "axis": {"labels": false, "ticks": false, "title": null}}, "xOffset": {"field": "t", "type": "nominal"}, "y": {"field": "hi", "type": "quantitative", "axis": {"values": [0,1,2,3,5,50,100,150,200], "title": null, "labelOverlap": false}}}},
                {"mark": {"type": "tick", "color": "#2b2b2b", "thickness": 0.8, "size": 3, "orient": "horizontal"}, "encoding": {"x": {"field": "c", "type": "nominal", "axis": {"labels": false, "ticks": false, "title": null}}, "xOffset": {"field": "t", "type": "nominal"}, "y": {"field": "lo", "type": "quantitative", "axis": {"values": [0,1,2,3,5,50,100,150,200], "title": null, "labelOverlap": false}}}},
                {"data": {"values": [{}]}, "mark": {"type": "rule", "color": "white", "strokeWidth": 2.5}, "encoding": {"y": {"datum": 4.9, "type": "quantitative", "axis": {"values": [0,1,2,3,5,50,100,150,200], "title": null, "labelOverlap": false}}}}
               ]},
              {"title": "MICA", "width": 186, "height": 88, "data": {"name": "bars"}, "transform": [{"filter": {"field": "m", "equal": "MICA"}}],
               "layer": [
                {"mark": "bar", "encoding": {
                  "x": {"field": "c", "type": "nominal", "scale": {"domain": ["SK-N-AS","SH-SY5Y","SH-EP","SK-N-SH","SK-N-BE(2)c","LA-N-5","IMR-32"], "paddingInner": 0.1, "paddingOuter": 0.05}, "axis": {"labels": false, "ticks": false, "title": null}},
                  "xOffset": {"field": "t", "type": "nominal", "scale": {"domain": ["un","Cisplatinum","Etoposide","Irinotecan","Topotecan"]}},
                  "y": {"field": "v", "type": "quantitative", "scale": {"domain": [0, 3, 30], "range": [88, 44, 0]}, "axis": {"values": [0,1,2,3,10,20,30], "title": null, "labelOverlap": false}},
                  "color": {"field": "t", "type": "nominal", "scale": {"domain": ["un","Cisplatinum","Etoposide","Irinotecan","Topotecan"], "range": ["#dadfdc","#a8baf2","#5a77ef","#2140f4","#0c0d5e"]}, "legend": {"title": null}}}},
                {"mark": {"type": "rule", "color": "#2b2b2b", "strokeWidth": 0.8}, "encoding": {"x": {"field": "c", "type": "nominal", "axis": {"labels": false, "ticks": false, "title": null}}, "xOffset": {"field": "t", "type": "nominal"}, "y": {"field": "lo", "type": "quantitative", "axis": {"values": [0,1,2,3,10,20,30], "title": null, "labelOverlap": false}}, "y2": {"field": "hi"}}},
                {"mark": {"type": "tick", "color": "#2b2b2b", "thickness": 0.8, "size": 3, "orient": "horizontal"}, "encoding": {"x": {"field": "c", "type": "nominal", "axis": {"labels": false, "ticks": false, "title": null}}, "xOffset": {"field": "t", "type": "nominal"}, "y": {"field": "hi", "type": "quantitative", "axis": {"values": [0,1,2,3,10,20,30], "title": null, "labelOverlap": false}}}},
                {"mark": {"type": "tick", "color": "#2b2b2b", "thickness": 0.8, "size": 3, "orient": "horizontal"}, "encoding": {"x": {"field": "c", "type": "nominal", "axis": {"labels": false, "ticks": false, "title": null}}, "xOffset": {"field": "t", "type": "nominal"}, "y": {"field": "lo", "type": "quantitative", "axis": {"values": [0,1,2,3,10,20,30], "title": null, "labelOverlap": false}}}},
                {"data": {"values": [{}]}, "mark": {"type": "rule", "color": "white", "strokeWidth": 2.5}, "encoding": {"y": {"datum": 3.05, "type": "quantitative", "axis": {"values": [0,1,2,3,10,20,30], "title": null, "labelOverlap": false}}}}
               ]},
              {"title": "MICB", "width": 186, "height": 88, "data": {"name": "bars"}, "transform": [{"filter": {"field": "m", "equal": "MICB"}}],
               "layer": [
                {"mark": "bar", "encoding": {
                  "x": {"field": "c", "type": "nominal", "scale": {"domain": ["SK-N-AS","SH-SY5Y","SH-EP","SK-N-SH","SK-N-BE(2)c","LA-N-5","IMR-32"], "paddingInner": 0.1, "paddingOuter": 0.05}, "axis": {"labels": false, "ticks": false, "title": null}},
                  "xOffset": {"field": "t", "type": "nominal", "scale": {"domain": ["un","Cisplatinum","Etoposide","Irinotecan","Topotecan"]}},
                  "y": {"field": "v", "type": "quantitative", "scale": {"domain": [0, 3, 4, 10], "range": [88, 36, 28, 0]}, "axis": {"values": [0,1,2,3,4,6,8,10], "title": null, "labelOverlap": false}},
                  "color": {"field": "t", "type": "nominal", "scale": {"domain": ["un","Cisplatinum","Etoposide","Irinotecan","Topotecan"], "range": ["#dadfdc","#a8baf2","#5a77ef","#2140f4","#0c0d5e"]}, "legend": {"title": null}}}},
                {"mark": {"type": "rule", "color": "#2b2b2b", "strokeWidth": 0.8}, "encoding": {"x": {"field": "c", "type": "nominal", "axis": {"labels": false, "ticks": false, "title": null}}, "xOffset": {"field": "t", "type": "nominal"}, "y": {"field": "lo", "type": "quantitative", "axis": {"values": [0,1,2,3,4,6,8,10], "title": null, "labelOverlap": false}}, "y2": {"field": "hi"}}},
                {"mark": {"type": "tick", "color": "#2b2b2b", "thickness": 0.8, "size": 3, "orient": "horizontal"}, "encoding": {"x": {"field": "c", "type": "nominal", "axis": {"labels": false, "ticks": false, "title": null}}, "xOffset": {"field": "t", "type": "nominal"}, "y": {"field": "hi", "type": "quantitative", "axis": {"values": [0,1,2,3,4,6,8,10], "title": null, "labelOverlap": false}}}},
                {"mark": {"type": "tick", "color": "#2b2b2b", "thickness": 0.8, "size": 3, "orient": "horizontal"}, "encoding": {"x": {"field": "c", "type": "nominal", "axis": {"labels": false, "ticks": false, "title": null}}, "xOffset": {"field": "t", "type": "nominal"}, "y": {"field": "lo", "type": "quantitative", "axis": {"values": [0,1,2,3,4,6,8,10], "title": null, "labelOverlap": false}}}},
                {"data": {"values": [{}]}, "mark": {"type": "rule", "color": "white", "strokeWidth": 2.5}, "encoding": {"y": {"datum": 3.5, "type": "quantitative", "axis": {"values": [0,1,2,3,4,6,8,10], "title": null, "labelOverlap": false}}}}
               ]}
            ], "spacing": 14},
            {"hconcat": [
              {"title": "ULBP1", "width": 186, "height": 88, "data": {"name": "bars"}, "transform": [{"filter": {"field": "m", "equal": "ULBP1"}}],
               "layer": [
                {"mark": "bar", "encoding": {
                  "x": {"field": "c", "type": "nominal", "scale": {"domain": ["SK-N-AS","SH-SY5Y","SH-EP","SK-N-SH","SK-N-BE(2)c","LA-N-5","IMR-32"], "paddingInner": 0.1, "paddingOuter": 0.05}, "axis": {"labels": false, "ticks": false, "title": null}},
                  "xOffset": {"field": "t", "type": "nominal", "scale": {"domain": ["un","Cisplatinum","Etoposide","Irinotecan","Topotecan"]}},
                  "y": {"field": "v", "type": "quantitative", "scale": {"domain": [0, 6], "nice": false}, "axis": {"values": [0,1,2,3,4,5,6], "title": null, "labelOverlap": false}},
                  "color": {"field": "t", "type": "nominal", "scale": {"domain": ["un","Cisplatinum","Etoposide","Irinotecan","Topotecan"], "range": ["#dadfdc","#a8baf2","#5a77ef","#2140f4","#0c0d5e"]}, "legend": {"title": null}}}},
                {"mark": {"type": "rule", "color": "#2b2b2b", "strokeWidth": 0.8}, "encoding": {"x": {"field": "c", "type": "nominal", "axis": {"labels": false, "ticks": false, "title": null}}, "xOffset": {"field": "t", "type": "nominal"}, "y": {"field": "lo", "type": "quantitative", "axis": {"values": [0,1,2,3,4,5,6], "title": null, "labelOverlap": false}}, "y2": {"field": "hi"}}},
                {"mark": {"type": "tick", "color": "#2b2b2b", "thickness": 0.8, "size": 3, "orient": "horizontal"}, "encoding": {"x": {"field": "c", "type": "nominal", "axis": {"labels": false, "ticks": false, "title": null}}, "xOffset": {"field": "t", "type": "nominal"}, "y": {"field": "hi", "type": "quantitative", "axis": {"values": [0,1,2,3,4,5,6], "title": null, "labelOverlap": false}}}},
                {"mark": {"type": "tick", "color": "#2b2b2b", "thickness": 0.8, "size": 3, "orient": "horizontal"}, "encoding": {"x": {"field": "c", "type": "nominal", "axis": {"labels": false, "ticks": false, "title": null}}, "xOffset": {"field": "t", "type": "nominal"}, "y": {"field": "lo", "type": "quantitative", "axis": {"values": [0,1,2,3,4,5,6], "title": null, "labelOverlap": false}}}}
               ]},
              {"title": "ULBP2/5/6", "width": 186, "height": 88, "data": {"name": "bars"}, "transform": [{"filter": {"field": "m", "equal": "ULBP2/5/6"}}],
               "layer": [
                {"mark": "bar", "encoding": {
                  "x": {"field": "c", "type": "nominal", "scale": {"domain": ["SK-N-AS","SH-SY5Y","SH-EP","SK-N-SH","SK-N-BE(2)c","LA-N-5","IMR-32"], "paddingInner": 0.1, "paddingOuter": 0.05}, "axis": {"labels": false, "ticks": false, "title": null}},
                  "xOffset": {"field": "t", "type": "nominal", "scale": {"domain": ["un","Cisplatinum","Etoposide","Irinotecan","Topotecan"]}},
                  "y": {"field": "v", "type": "quantitative", "scale": {"domain": [0, 7, 15], "range": [88, 27, 0]}, "axis": {"values": [0,2,4,6,9,12,15], "title": null, "labelOverlap": false}},
                  "color": {"field": "t", "type": "nominal", "scale": {"domain": ["un","Cisplatinum","Etoposide","Irinotecan","Topotecan"], "range": ["#dadfdc","#a8baf2","#5a77ef","#2140f4","#0c0d5e"]}, "legend": {"title": null}}}},
                {"mark": {"type": "rule", "color": "#2b2b2b", "strokeWidth": 0.8}, "encoding": {"x": {"field": "c", "type": "nominal", "axis": {"labels": false, "ticks": false, "title": null}}, "xOffset": {"field": "t", "type": "nominal"}, "y": {"field": "lo", "type": "quantitative", "axis": {"values": [0,2,4,6,9,12,15], "title": null, "labelOverlap": false}}, "y2": {"field": "hi"}}},
                {"mark": {"type": "tick", "color": "#2b2b2b", "thickness": 0.8, "size": 3, "orient": "horizontal"}, "encoding": {"x": {"field": "c", "type": "nominal", "axis": {"labels": false, "ticks": false, "title": null}}, "xOffset": {"field": "t", "type": "nominal"}, "y": {"field": "hi", "type": "quantitative", "axis": {"values": [0,2,4,6,9,12,15], "title": null, "labelOverlap": false}}}},
                {"mark": {"type": "tick", "color": "#2b2b2b", "thickness": 0.8, "size": 3, "orient": "horizontal"}, "encoding": {"x": {"field": "c", "type": "nominal", "axis": {"labels": false, "ticks": false, "title": null}}, "xOffset": {"field": "t", "type": "nominal"}, "y": {"field": "lo", "type": "quantitative", "axis": {"values": [0,2,4,6,9,12,15], "title": null, "labelOverlap": false}}}},
                {"data": {"values": [{}]}, "mark": {"type": "rule", "color": "white", "strokeWidth": 2.5}, "encoding": {"y": {"datum": 7.1, "type": "quantitative", "axis": {"values": [0,2,4,6,9,12,15], "title": null, "labelOverlap": false}}}},
                {"data": {"name": "br"}, "transform": [{"filter": {"field": "m", "equal": "ULBP2/5/6"}}], "mark": {"type": "line", "color": "#222", "strokeWidth": 0.8, "interpolate": "linear"}, "encoding": {"x": {"field": "c", "type": "nominal", "axis": {"labels": false, "ticks": false, "title": null}}, "xOffset": {"field": "t", "type": "nominal"}, "y": {"field": "y", "type": "quantitative", "axis": {"values": [0,2,4,6,9,12,15], "title": null, "labelOverlap": false}}, "detail": {"field": "g"}, "order": {"field": "o", "type": "quantitative"}}},
                {"data": {"name": "st"}, "transform": [{"filter": {"field": "m", "equal": "ULBP2/5/6"}}], "mark": {"type": "text", "fontSize": 11, "font": "Liberation Serif", "baseline": "alphabetic", "dy": 4, "color": "#222"}, "encoding": {"x": {"field": "c", "type": "nominal", "axis": {"labels": false, "ticks": false, "title": null}}, "xOffset": {"field": "t", "type": "nominal"}, "y": {"field": "y", "type": "quantitative", "axis": {"values": [0,2,4,6,9,12,15], "title": null, "labelOverlap": false}}, "text": {"field": "s"}}}
               ]},
              {"title": "ULBP3", "width": 186, "height": 88, "data": {"name": "bars"}, "transform": [{"filter": {"field": "m", "equal": "ULBP3"}}],
               "layer": [
                {"mark": "bar", "encoding": {
                  "x": {"field": "c", "type": "nominal", "scale": {"domain": ["SK-N-AS","SH-SY5Y","SH-EP","SK-N-SH","SK-N-BE(2)c","LA-N-5","IMR-32"], "paddingInner": 0.1, "paddingOuter": 0.05}, "axis": {"labels": false, "ticks": false, "title": null}},
                  "xOffset": {"field": "t", "type": "nominal", "scale": {"domain": ["un","Cisplatinum","Etoposide","Irinotecan","Topotecan"]}},
                  "y": {"field": "v", "type": "quantitative", "scale": {"domain": [0, 12], "nice": false}, "axis": {"values": [0,2,4,6,8,10,12], "title": null, "labelOverlap": false}},
                  "color": {"field": "t", "type": "nominal", "scale": {"domain": ["un","Cisplatinum","Etoposide","Irinotecan","Topotecan"], "range": ["#dadfdc","#a8baf2","#5a77ef","#2140f4","#0c0d5e"]}, "legend": {"title": null}}}},
                {"mark": {"type": "rule", "color": "#2b2b2b", "strokeWidth": 0.8}, "encoding": {"x": {"field": "c", "type": "nominal", "axis": {"labels": false, "ticks": false, "title": null}}, "xOffset": {"field": "t", "type": "nominal"}, "y": {"field": "lo", "type": "quantitative", "axis": {"values": [0,2,4,6,8,10,12], "title": null, "labelOverlap": false}}, "y2": {"field": "hi"}}},
                {"mark": {"type": "tick", "color": "#2b2b2b", "thickness": 0.8, "size": 3, "orient": "horizontal"}, "encoding": {"x": {"field": "c", "type": "nominal", "axis": {"labels": false, "ticks": false, "title": null}}, "xOffset": {"field": "t", "type": "nominal"}, "y": {"field": "hi", "type": "quantitative", "axis": {"values": [0,2,4,6,8,10,12], "title": null, "labelOverlap": false}}}},
                {"mark": {"type": "tick", "color": "#2b2b2b", "thickness": 0.8, "size": 3, "orient": "horizontal"}, "encoding": {"x": {"field": "c", "type": "nominal", "axis": {"labels": false, "ticks": false, "title": null}}, "xOffset": {"field": "t", "type": "nominal"}, "y": {"field": "lo", "type": "quantitative", "axis": {"values": [0,2,4,6,8,10,12], "title": null, "labelOverlap": false}}}}
               ]}
            ], "spacing": 14},
            {"hconcat": [
              {"title": "PVR", "width": 186, "height": 88, "data": {"name": "bars"}, "transform": [{"filter": {"field": "m", "equal": "PVR"}}],
               "layer": [
                {"mark": "bar", "encoding": {
                  "x": {"field": "c", "type": "nominal", "scale": {"domain": ["SK-N-AS","SH-SY5Y","SH-EP","SK-N-SH","SK-N-BE(2)c","LA-N-5","IMR-32"], "paddingInner": 0.1, "paddingOuter": 0.05}, "axis": {"labelAngle": -90, "ticks": false, "title": null, "labelPadding": 3}},
                  "xOffset": {"field": "t", "type": "nominal", "scale": {"domain": ["un","Cisplatinum","Etoposide","Irinotecan","Topotecan"]}},
                  "y": {"field": "v", "type": "quantitative", "scale": {"domain": [0, 10], "nice": false}, "axis": {"values": [0,2,4,6,8,10], "title": null, "labelOverlap": false}},
                  "color": {"field": "t", "type": "nominal", "scale": {"domain": ["un","Cisplatinum","Etoposide","Irinotecan","Topotecan"], "range": ["#dadfdc","#a8baf2","#5a77ef","#2140f4","#0c0d5e"]}, "legend": {"title": null}}}},
                {"mark": {"type": "rule", "color": "#2b2b2b", "strokeWidth": 0.8}, "encoding": {"x": {"field": "c", "type": "nominal", "axis": {"labelAngle": -90, "ticks": false, "title": null, "labelPadding": 3}}, "xOffset": {"field": "t", "type": "nominal"}, "y": {"field": "lo", "type": "quantitative", "axis": {"values": [0,2,4,6,8,10], "title": null, "labelOverlap": false}}, "y2": {"field": "hi"}}},
                {"mark": {"type": "tick", "color": "#2b2b2b", "thickness": 0.8, "size": 3, "orient": "horizontal"}, "encoding": {"x": {"field": "c", "type": "nominal", "axis": {"labelAngle": -90, "ticks": false, "title": null, "labelPadding": 3}}, "xOffset": {"field": "t", "type": "nominal"}, "y": {"field": "hi", "type": "quantitative", "axis": {"values": [0,2,4,6,8,10], "title": null, "labelOverlap": false}}}},
                {"mark": {"type": "tick", "color": "#2b2b2b", "thickness": 0.8, "size": 3, "orient": "horizontal"}, "encoding": {"x": {"field": "c", "type": "nominal", "axis": {"labelAngle": -90, "ticks": false, "title": null, "labelPadding": 3}}, "xOffset": {"field": "t", "type": "nominal"}, "y": {"field": "lo", "type": "quantitative", "axis": {"values": [0,2,4,6,8,10], "title": null, "labelOverlap": false}}}}
               ]},
              {"title": "Nectin2", "width": 186, "height": 88, "data": {"name": "bars"}, "transform": [{"filter": {"field": "m", "equal": "Nectin2"}}],
               "layer": [
                {"mark": "bar", "encoding": {
                  "x": {"field": "c", "type": "nominal", "scale": {"domain": ["SK-N-AS","SH-SY5Y","SH-EP","SK-N-SH","SK-N-BE(2)c","LA-N-5","IMR-32"], "paddingInner": 0.1, "paddingOuter": 0.05}, "axis": {"labelAngle": -90, "ticks": false, "title": null, "labelPadding": 3}},
                  "xOffset": {"field": "t", "type": "nominal", "scale": {"domain": ["un","Cisplatinum","Etoposide","Irinotecan","Topotecan"]}},
                  "y": {"field": "v", "type": "quantitative", "scale": {"domain": [0, 60], "nice": false}, "axis": {"values": [0,10,20,30,40,50,60], "title": null, "labelOverlap": false}},
                  "color": {"field": "t", "type": "nominal", "scale": {"domain": ["un","Cisplatinum","Etoposide","Irinotecan","Topotecan"], "range": ["#dadfdc","#a8baf2","#5a77ef","#2140f4","#0c0d5e"]}, "legend": {"title": null}}}},
                {"mark": {"type": "rule", "color": "#2b2b2b", "strokeWidth": 0.8}, "encoding": {"x": {"field": "c", "type": "nominal", "axis": {"labelAngle": -90, "ticks": false, "title": null, "labelPadding": 3}}, "xOffset": {"field": "t", "type": "nominal"}, "y": {"field": "lo", "type": "quantitative", "axis": {"values": [0,10,20,30,40,50,60], "title": null, "labelOverlap": false}}, "y2": {"field": "hi"}}},
                {"mark": {"type": "tick", "color": "#2b2b2b", "thickness": 0.8, "size": 3, "orient": "horizontal"}, "encoding": {"x": {"field": "c", "type": "nominal", "axis": {"labelAngle": -90, "ticks": false, "title": null, "labelPadding": 3}}, "xOffset": {"field": "t", "type": "nominal"}, "y": {"field": "hi", "type": "quantitative", "axis": {"values": [0,10,20,30,40,50,60], "title": null, "labelOverlap": false}}}},
                {"mark": {"type": "tick", "color": "#2b2b2b", "thickness": 0.8, "size": 3, "orient": "horizontal"}, "encoding": {"x": {"field": "c", "type": "nominal", "axis": {"labelAngle": -90, "ticks": false, "title": null, "labelPadding": 3}}, "xOffset": {"field": "t", "type": "nominal"}, "y": {"field": "lo", "type": "quantitative", "axis": {"values": [0,10,20,30,40,50,60], "title": null, "labelOverlap": false}}}},
                {"data": {"name": "br"}, "transform": [{"filter": {"field": "m", "equal": "Nectin2"}}], "mark": {"type": "line", "color": "#222", "strokeWidth": 0.8, "interpolate": "linear", "clip": false}, "encoding": {"x": {"field": "c", "type": "nominal", "axis": {"labelAngle": -90, "ticks": false, "title": null, "labelPadding": 3}}, "xOffset": {"field": "t", "type": "nominal"}, "y": {"field": "y", "type": "quantitative", "axis": {"values": [0,10,20,30,40,50,60], "title": null, "labelOverlap": false}}, "detail": {"field": "g"}, "order": {"field": "o", "type": "quantitative"}}},
                {"data": {"name": "st"}, "transform": [{"filter": {"field": "m", "equal": "Nectin2"}}], "mark": {"type": "text", "fontSize": 11, "font": "Liberation Serif", "baseline": "alphabetic", "dy": 4, "color": "#222"}, "encoding": {"x": {"field": "c", "type": "nominal", "axis": {"labelAngle": -90, "ticks": false, "title": null, "labelPadding": 3}}, "xOffset": {"field": "t", "type": "nominal"}, "y": {"field": "y", "type": "quantitative", "axis": {"values": [0,10,20,30,40,50,60], "title": null, "labelOverlap": false}}, "text": {"field": "s"}}}
               ]},
              {"title": "TRAIL-R2", "width": 186, "height": 88, "data": {"name": "bars"}, "transform": [{"filter": {"field": "m", "equal": "TRAIL-R2"}}],
               "layer": [
                {"mark": "bar", "encoding": {
                  "x": {"field": "c", "type": "nominal", "scale": {"domain": ["SK-N-AS","SH-SY5Y","SH-EP","SK-N-SH","SK-N-BE(2)c","LA-N-5","IMR-32"], "paddingInner": 0.1, "paddingOuter": 0.05}, "axis": {"labelAngle": -90, "ticks": false, "title": null, "labelPadding": 3}},
                  "xOffset": {"field": "t", "type": "nominal", "scale": {"domain": ["un","Cisplatinum","Etoposide","Irinotecan","Topotecan"]}},
                  "y": {"field": "v", "type": "quantitative", "scale": {"domain": [0, 50], "nice": false}, "axis": {"values": [0,10,20,30,40,50], "title": null, "labelOverlap": false}},
                  "color": {"field": "t", "type": "nominal", "scale": {"domain": ["un","Cisplatinum","Etoposide","Irinotecan","Topotecan"], "range": ["#dadfdc","#a8baf2","#5a77ef","#2140f4","#0c0d5e"]}, "legend": {"title": null}}}},
                {"mark": {"type": "rule", "color": "#2b2b2b", "strokeWidth": 0.8}, "encoding": {"x": {"field": "c", "type": "nominal", "axis": {"labelAngle": -90, "ticks": false, "title": null, "labelPadding": 3}}, "xOffset": {"field": "t", "type": "nominal"}, "y": {"field": "lo", "type": "quantitative", "axis": {"values": [0,10,20,30,40,50], "title": null, "labelOverlap": false}}, "y2": {"field": "hi"}}},
                {"mark": {"type": "tick", "color": "#2b2b2b", "thickness": 0.8, "size": 3, "orient": "horizontal"}, "encoding": {"x": {"field": "c", "type": "nominal", "axis": {"labelAngle": -90, "ticks": false, "title": null, "labelPadding": 3}}, "xOffset": {"field": "t", "type": "nominal"}, "y": {"field": "hi", "type": "quantitative", "axis": {"values": [0,10,20,30,40,50], "title": null, "labelOverlap": false}}}},
                {"mark": {"type": "tick", "color": "#2b2b2b", "thickness": 0.8, "size": 3, "orient": "horizontal"}, "encoding": {"x": {"field": "c", "type": "nominal", "axis": {"labelAngle": -90, "ticks": false, "title": null, "labelPadding": 3}}, "xOffset": {"field": "t", "type": "nominal"}, "y": {"field": "lo", "type": "quantitative", "axis": {"values": [0,10,20,30,40,50], "title": null, "labelOverlap": false}}}}
               ]}
            ], "spacing": 14}
          ],
          "spacing": 13
        }
      ],
      "spacing": 0
    },
    {
      "width": 674, "height": 20,
      "data": {"values": [{"lab": "NB cell lines"}]},
      "layer": [
        {"mark": {"type": "rule", "color": "#333", "strokeWidth": 1},
         "encoding": {"x": {"datum": 0.033, "type": "quantitative", "scale": {"domain": [0, 1]}, "axis": null},
                      "x2": {"datum": 0.995},
                      "y": {"datum": 1, "type": "quantitative", "scale": {"domain": [0, 1]}, "axis": null}}},
        {"mark": {"type": "point", "shape": "M-0.7,-1L0.3,0L-0.7,1", "filled": false, "color": "#333", "size": 40, "strokeWidth": 1},
         "encoding": {"x": {"datum": 0.995, "type": "quantitative"}, "y": {"datum": 1, "type": "quantitative"}}},
        {"mark": {"type": "text", "fontSize": 11, "font": "Liberation Serif", "color": "#111"},
         "encoding": {"x": {"datum": 0.51, "type": "quantitative"}, "y": {"datum": 0.25, "type": "quantitative"}, "text": {"field": "lab"}}}
      ]
    }
  ],
  "spacing": 0,
  "config": {
    "font": "Liberation Serif",
    "view": {"stroke": null},
    "axis": {"labelFont": "Liberation Serif", "labelFontSize": 8, "labelColor": "#222", "domainColor": "#555", "tickColor": "#555", "tickSize": 3, "grid": false, "labelOverlap": false, "labelBound": false},
    "axisY": {"minExtent": 20, "maxExtent": 20, "labelPadding": 2},
    "title": {"font": "Liberation Serif", "fontSize": 12, "fontWeight": "normal", "offset": 5, "color": "#111", "frame": "group", "anchor": "middle"},
    "legend": {"orient": "none", "legendX": 22, "legendY": 438, "columns": 2, "columnPadding": 220, "rowPadding": 5, "symbolType": "square", "symbolSize": 256, "symbolStrokeWidth": 0, "symbolOpacity": 1, "labelFont": "Liberation Serif", "labelFontSize": 11, "labelColor": "#111", "labelOffset": 6}
  }
}
